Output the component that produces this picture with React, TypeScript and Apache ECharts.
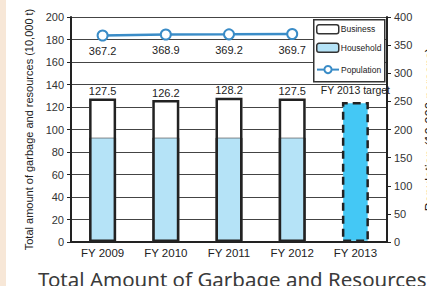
import React, { useEffect, useRef } from "react";
import * as echarts from "echarts";

const categories = ["FY 2009", "FY 2010", "FY 2011", "FY 2012", "FY 2013"];
const household = [93, 93, 93, 93, null];
const business = [34.5, 33.2, 35.2, 34.5, null];
const totals = [127.5, 126.2, 128.2, 127.5, null];
const target = [null, null, null, null, 124.5];
const population = [367.2, 368.9, 369.2, 369.7, null];
const leftTicks = { min: 0, max: 200, interval: 20 };
const rightTicks = { min: 0, max: 400, interval: 50 };

const FONT = "Liberation Sans, Arial, sans-serif";
const NARROW = "Liberation Sans Narrow, Liberation Sans, Arial, sans-serif";

export default function App() {
  const ref = useRef<HTMLDivElement>(null);
  useEffect(() => {
    if (!ref.current) return;
    const chart = echarts.init(ref.current, null, { renderer: "svg" });
    chart.setOption({
      animation: false,
      backgroundColor: "#ffffff",
      textStyle: { fontFamily: FONT },
      title: {
        text: "Total Amount of Garbage and Resources",
        left: 38,
        top: 268,
        padding: 0,
        textStyle: { fontSize: 20.5, fontWeight: "normal", color: "#3a3a3a", fontFamily: "Noto Sans" },
      },
      grid: { left: 71, right: 40, top: 17, bottom: 44, containLabel: false, outerBoundsMode: "none" },
      graphic: [
        { type: "rect", left: 0, top: 0, shape: { width: 6, height: 286 }, style: { fill: "#f7e7d7" }, z: 1 },
        {
          type: "rect",
          left: 313,
          top: 19,
          shape: { width: 71, height: 62 },
          style: { fill: "#fff", stroke: "#333", lineWidth: 1.5 },
          z: 3,
        },
      ],
      legend: [
        {
          left: 316,
          top: 24,
          orient: "vertical",
          padding: 0,
          itemGap: 8,
          itemWidth: 22,
          itemHeight: 9,
          textStyle: { fontSize: 8.5, color: "#222", fontFamily: NARROW, padding: [0, 0, 0, -3] },
          data: [
            { name: "Business", itemStyle: { color: "#fff", borderColor: "#333", borderWidth: 1.5 } },
            { name: "Household", itemStyle: { color: "#b5e3f7", borderColor: "#333", borderWidth: 1.5 } },
          ],
          z: 5,
        },
        {
          left: 316,
          top: 65,
          orient: "vertical",
          padding: 0,
          itemWidth: 22,
          itemHeight: 9,
          textStyle: { fontSize: 8.5, color: "#222", fontFamily: NARROW, padding: [0, 0, 0, -3] },
          data: ["Population"],
          z: 5,
        },
      ],
      xAxis: {
        type: "category",
        data: categories,
        axisLine: { lineStyle: { color: "#222", width: 2 } },
        axisTick: { show: false },
        axisLabel: { color: "#222", fontSize: 11.5, margin: 5, fontFamily: NARROW, interval: 0 },
      },
      yAxis: [
        {
          type: "value",
          ...leftTicks,
          name: "Total amount of garbage and resources (10,000 t)",
          nameLocation: "middle",
          nameGap: 36,
          nameTextStyle: { fontSize: 11, color: "#222", fontFamily: NARROW },
          axisLine: { show: true, lineStyle: { color: "#222", width: 2 } },
          axisTick: { show: true, length: 4, lineStyle: { color: "#222" } },
          axisLabel: { color: "#333", fontSize: 11, margin: 7 },
          splitLine: { lineStyle: { color: "#444", width: 1.2 } },
        },
        {
          type: "value",
          ...rightTicks,
          name: "Population (10,000 persons)",
          nameLocation: "middle",
          nameGap: 32,
          nameTextStyle: { fontSize: 13, color: "#222" },
          axisLine: { show: true, lineStyle: { color: "#222", width: 2 } },
          axisTick: { show: true, length: 4, lineStyle: { color: "#222" } },
          axisLabel: { color: "#333", fontSize: 11, margin: 7 },
          splitLine: { show: false },
        },
      ],
      series: [
        {
          name: "Household",
          type: "bar",
          stack: "a",
          barWidth: 27,
          data: household,
          itemStyle: { color: "#b5e3f7", borderColor: "#555", borderWidth: 1 },
        },
        {
          name: "Business",
          type: "bar",
          stack: "a",
          barWidth: 27,
          data: business,
          itemStyle: { color: "#ffffff" },
        },
        {
          name: "Target",
          type: "bar",
          stack: "a",
          barWidth: 27,
          data: target,
          itemStyle: { color: "#44c8f5", borderColor: "#222", borderWidth: 2.5, borderType: [8, 5] },
          label: {
            show: true,
            position: "top",
            distance: 6,
            formatter: "FY 2013 target",
            fontSize: 10.5,
            color: "#222",
            fontFamily: NARROW,
          },
        },
        {
          name: "Total",
          type: "bar",
          barWidth: 27,
          barGap: "-100%",
          data: totals,
          itemStyle: { color: "rgba(0,0,0,0)", borderColor: "#222", borderWidth: 2.5 },
          label: { show: true, position: "top", distance: 2, fontSize: 11, color: "#222" },
          z: 3,
        },
        {
          name: "Population",
          type: "line",
          yAxisIndex: 1,
          data: population,
          symbol: "emptyCircle",
          symbolSize: 10,
          lineStyle: { color: "#3a8cc7", width: 2.5 },
          itemStyle: { color: "#3a8cc7", borderWidth: 2.5 },
          label: {
            show: true,
            position: "bottom",
            distance: 4,
            fontSize: 11,
            color: "#222",
            formatter: (p: any) => p.value.toFixed(1),
          },
          z: 4,
        },
      ],
    });
    return () => chart.dispose();
  }, []);
  return (
    <div
      ref={ref}
      style={{ position: "fixed", left: 0, top: 0, width: 427, height: 286, background: "#fff" }}
    />
  );
}
